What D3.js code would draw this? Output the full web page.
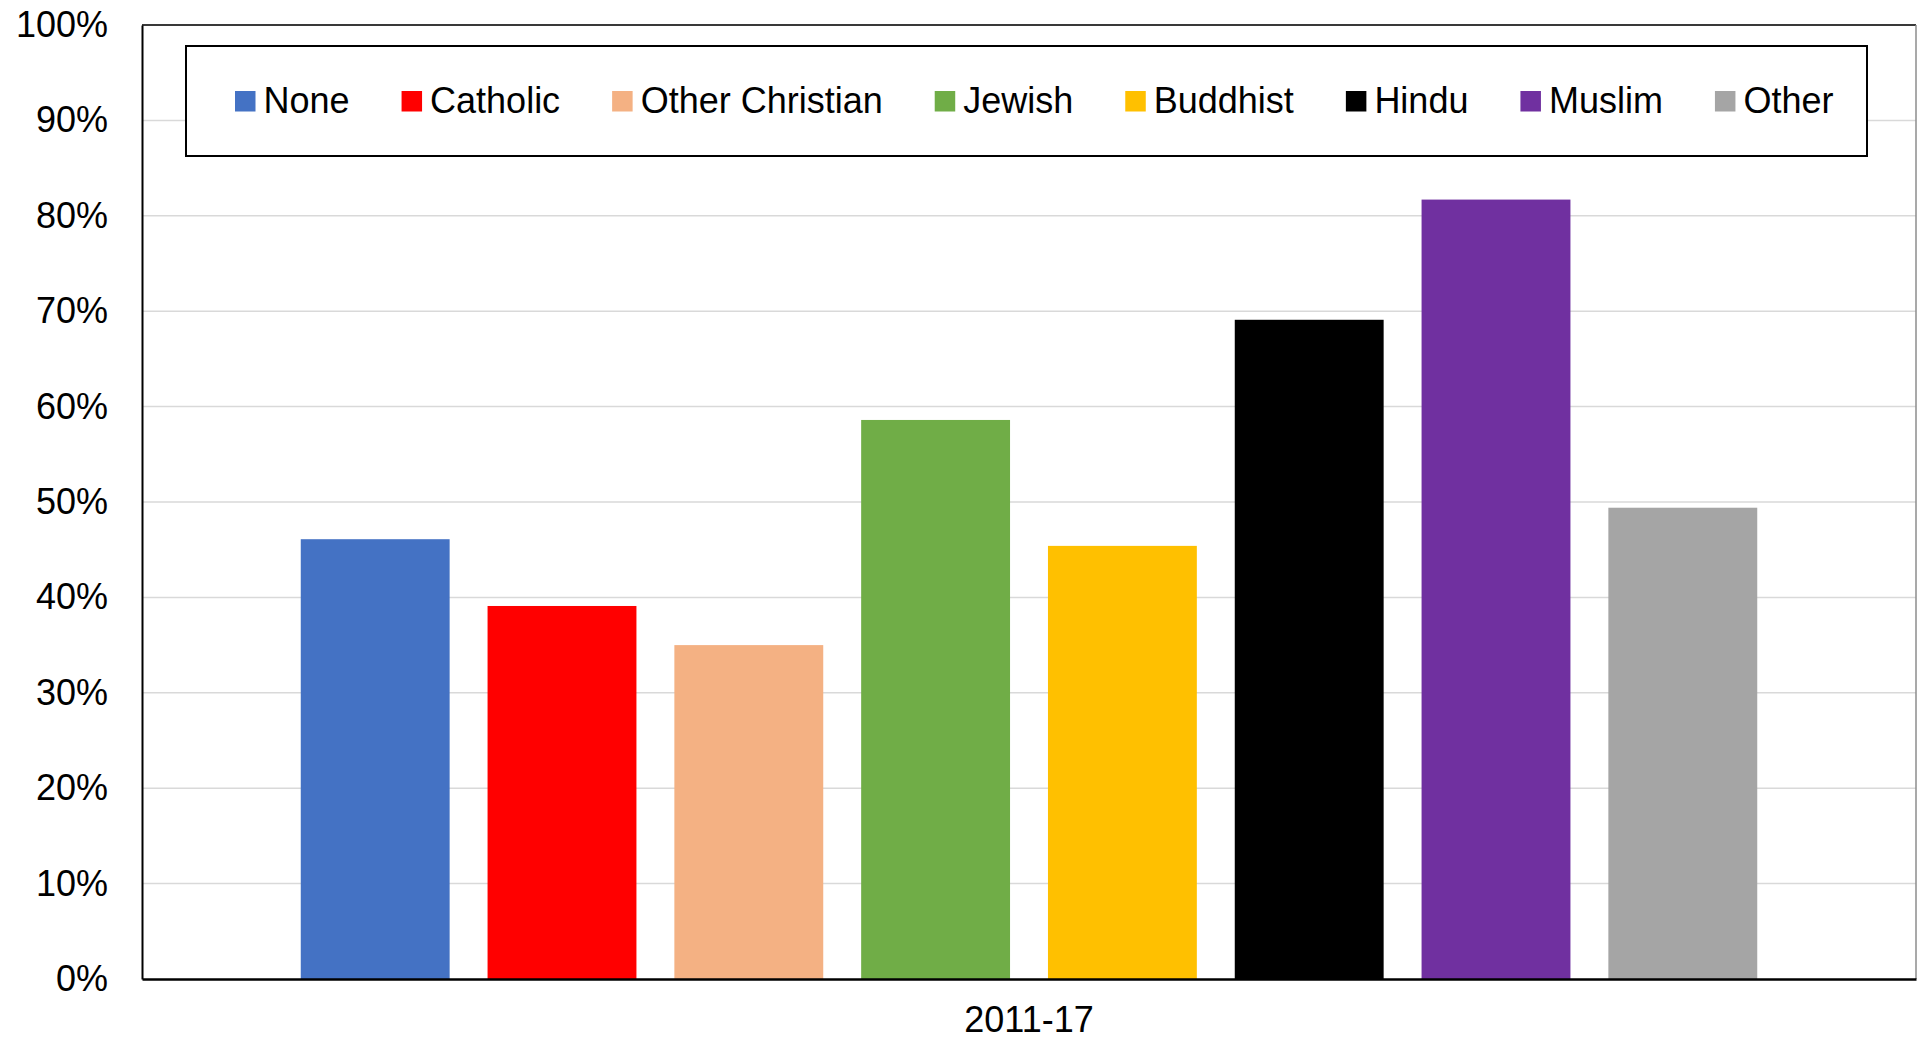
<!DOCTYPE html>
<html>
<head>
<meta charset="utf-8">
<script src="https://cdn.jsdelivr.net/npm/d3@7"></script>
<style>
  html, body { margin: 0; padding: 0; background: #fff; }
  svg { display: block; }
  text { font-family: "Liberation Sans", Arial, sans-serif; fill: #000; }
</style>
</head>
<body>
<svg id="chart" width="1917" height="1041"></svg>
<script>
// ---- data ----
const categories = ["2011-17"];
const seriesNames = ["None", "Catholic", "Other Christian", "Jewish", "Buddhist", "Hindu", "Muslim", "Other"];
const seriesValues = [46.1, 39.1, 35.0, 58.6, 45.4, 69.1, 81.7, 49.4];
const seriesColors = ["#4472C4", "#FF0000", "#F4B183", "#70AD47", "#FFC000", "#000000", "#7030A0", "#A5A5A5"];
const yTicks = [0, 10, 20, 30, 40, 50, 60, 70, 80, 90, 100];

// ---- layout ----
const W = 1917, H = 1041;
const plot = { left: 142, right: 1916, top: 25, bottom: 979 };
const svg = d3.select("#chart");

const y = d3.scaleLinear().domain([0, 100]).range([plot.bottom, plot.top]);
const x0 = d3.scaleBand().domain(categories).range([plot.left, plot.right])
  .paddingInner(0).paddingOuter(0.109);
const x1 = d3.scaleBand().domain(seriesNames).range([0, x0.bandwidth()])
  .paddingInner(0.203).paddingOuter(0);

// gridlines
svg.append("g").selectAll("line").data(yTicks.filter(d => d > 0)).join("line")
  .attr("x1", plot.left).attr("x2", plot.right)
  .attr("y1", d => y(d)).attr("y2", d => y(d))
  .attr("stroke", "#D9D9D9").attr("stroke-width", 1.5);

// plot area border top/right
svg.append("line").attr("x1", plot.left).attr("x2", plot.right)
  .attr("y1", plot.top).attr("y2", plot.top)
  .attr("stroke", "#000").attr("stroke-width", 1.5);
svg.append("line").attr("x1", plot.right).attr("x2", plot.right)
  .attr("y1", plot.top).attr("y2", plot.bottom)
  .attr("stroke", "#8C8C8C").attr("stroke-width", 1.5);

// bars
const data = seriesNames.map((n, i) => ({ name: n, value: seriesValues[i], color: seriesColors[i], cat: categories[0] }));
svg.append("g").selectAll("rect").data(data).join("rect")
  .attr("x", d => x0(d.cat) + x1(d.name))
  .attr("width", x1.bandwidth())
  .attr("y", d => y(d.value))
  .attr("height", d => y(0) - y(d.value))
  .attr("fill", d => d.color);

// y axis
const yAxis = d3.axisLeft(y).tickValues(yTicks).tickSize(0).tickPadding(34)
  .tickFormat(d => d + "%");
const gy = svg.append("g").attr("transform", `translate(${plot.left},0)`).call(yAxis);
gy.select(".domain").attr("stroke", "#000").attr("stroke-width", 2);
gy.selectAll("text").attr("font-size", 36).attr("font-family", '"Liberation Sans", Arial, sans-serif')
  .attr("fill", "#000");

// x axis
const xAxis = d3.axisBottom(x0).tickSize(0).tickPadding(27);
const gx = svg.append("g").attr("transform", `translate(0,${plot.bottom})`).call(xAxis);
gx.select(".domain").attr("stroke", "#000").attr("stroke-width", 2.5);
gx.selectAll("text").attr("font-size", 36).attr("font-family", '"Liberation Sans", Arial, sans-serif')
  .attr("fill", "#000");

// legend
const legend = { left: 186, right: 1867, top: 46, bottom: 156 };
svg.append("rect")
  .attr("x", legend.left).attr("y", legend.top)
  .attr("width", legend.right - legend.left).attr("height", legend.bottom - legend.top)
  .attr("fill", "#fff").attr("stroke", "#000").attr("stroke-width", 2);

const lg = svg.append("g");
let cursor = 235;
data.forEach(d => {
  lg.append("rect").attr("x", cursor).attr("y", 91).attr("width", 20.5).attr("height", 20.5)
    .attr("fill", d.color);
  const t = lg.append("text").attr("x", cursor + 28.5).attr("y", 112.5)
    .attr("font-size", 36).text(d.name);
  const w = t.node().getComputedTextLength();
  cursor = cursor + 28.5 + w + 52;
});
</script>
</body>
</html>
